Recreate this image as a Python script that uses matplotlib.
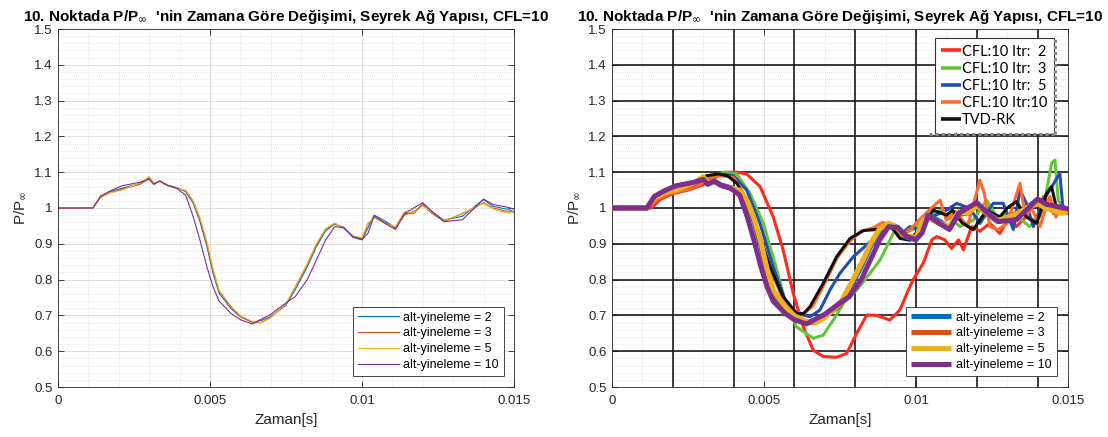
import numpy as np
import matplotlib
matplotlib.use("Agg")
import matplotlib.pyplot as plt
from matplotlib.ticker import MultipleLocator
from matplotlib.lines import Line2D
from matplotlib.font_manager import FontProperties

plt.rcParams['font.family'] = ['Liberation Sans', 'DejaVu Sans']
plt.rcParams['mathtext.fontset'] = 'dejavusans'

# ---------------- data ----------------
TITLE = "10. Noktada P/P$_{\\infty}$  'nin Zamana Göre Değişimi, Seyrek Ağ Yapısı, CFL=10"
XLABEL = "Zaman[s]"
YLABEL = "P/P$_{\\infty}$"
XTICKS = [0, 0.005, 0.01, 0.015]
XTICKLABELS = ["0", "0.005", "0.01", "0.015"]
YTICKS = [0.5, 0.6, 0.7, 0.8, 0.9, 1.0, 1.1, 1.2, 1.3, 1.4, 1.5]
YTICKLABELS = ["0.5", "0.6", "0.7", "0.8", "0.9", "1", "1.1", "1.2", "1.3", "1.4", "1.5"]

# MATLAB series (sub-iterations)
T_ALT = [0, 0.00115, 0.0014, 0.0017, 0.0021, 0.0027, 0.0030, 0.00315, 0.00335, 0.0036,
         0.0039, 0.0042, 0.00445, 0.00467, 0.0049, 0.0051, 0.0053, 0.0057, 0.0060, 0.0064,
         0.0067, 0.0070, 0.0075, 0.0078, 0.0082, 0.0085, 0.0088, 0.0091, 0.0094, 0.0097,
         0.0100, 0.0102, 0.0104, 0.0108, 0.0111, 0.0114, 0.0117, 0.0120, 0.0123, 0.0127,
         0.0133, 0.0137, 0.0140, 0.0143, 0.0148, 0.0150]
ALT2 = [1.0, 1.0, 1.032, 1.045, 1.055, 1.068, 1.083, 1.068, 1.075, 1.064,
        1.057, 1.046, 1.013, 0.962, 0.892, 0.818, 0.762, 0.718, 0.696, 0.681,
        0.686, 0.697, 0.729, 0.771, 0.836, 0.892, 0.936, 0.955, 0.946, 0.918,
        0.911, 0.945, 0.980, 0.962, 0.943, 0.985, 0.984, 1.012, 0.990, 0.966,
        0.977, 1.004, 1.024, 1.005, 0.996, 0.990]
ALT3 = [1.0, 1.0, 1.030, 1.043, 1.052, 1.066, 1.085, 1.067, 1.076, 1.063,
        1.056, 1.048, 1.018, 0.970, 0.900, 0.826, 0.768, 0.722, 0.698, 0.680,
        0.680, 0.695, 0.731, 0.778, 0.842, 0.897, 0.940, 0.957, 0.944, 0.922,
        0.915, 0.955, 0.975, 0.958, 0.945, 0.980, 0.990, 1.008, 0.985, 0.962,
        0.985, 1.000, 1.015, 1.000, 0.990, 0.988]
ALT5 = [1.0, 1.0, 1.028, 1.042, 1.050, 1.070, 1.088, 1.070, 1.074, 1.062,
        1.055, 1.050, 1.020, 0.972, 0.905, 0.830, 0.770, 0.725, 0.699, 0.683,
        0.680, 0.694, 0.733, 0.780, 0.845, 0.900, 0.942, 0.958, 0.942, 0.920,
        0.918, 0.958, 0.972, 0.955, 0.948, 0.990, 0.985, 1.006, 0.988, 0.965,
        0.983, 1.003, 1.012, 0.998, 0.985, 0.990]
ALT10 = [1.0, 1.0, 1.033, 1.047, 1.062, 1.072, 1.080, 1.066, 1.075, 1.063,
         1.055, 1.036, 0.975, 0.910, 0.835, 0.780, 0.740, 0.705, 0.688, 0.676,
         0.690, 0.703, 0.735, 0.752, 0.800, 0.855, 0.910, 0.948, 0.945, 0.920,
         0.912, 0.930, 0.978, 0.955, 0.940, 0.985, 1.000, 1.015, 0.990, 0.962,
         0.967, 1.000, 1.025, 1.010, 1.002, 0.997]
ALT_LABELS = ["alt-yineleme = 2", "alt-yineleme = 3", "alt-yineleme = 5", "alt-yineleme = 10"]
ALT_COLORS = ["#0072BD", "#D95319", "#EDB120", "#7E2F8E"]

# Reference (pasted) series
T_IT2 = [0, 0.0013, 0.0016, 0.002, 0.0025, 0.003, 0.0034, 0.0037, 0.0041, 0.00443,
         0.00487, 0.0053, 0.00563, 0.00596, 0.00629, 0.00662, 0.00695, 0.00739, 0.00772, 0.00805,
         0.00838, 0.00871, 0.00914, 0.00947, 0.00975, 0.0099, 0.01024, 0.01052, 0.01068, 0.01095,
         0.01117, 0.0114, 0.01156, 0.01183, 0.0121, 0.01243, 0.01276, 0.01309, 0.0133, 0.01363,
         0.01397, 0.01419, 0.01452, 0.015]
P_IT2 = [1.0, 1.0, 1.025, 1.04, 1.05, 1.065, 1.085, 1.1, 1.1, 1.095,
         1.06, 0.976, 0.883, 0.762, 0.668, 0.603, 0.585, 0.583, 0.594, 0.65,
         0.701, 0.70, 0.687, 0.715, 0.771, 0.799, 0.846, 0.911, 0.92, 0.911,
         0.887, 0.911, 0.883, 0.948, 0.935, 0.957, 0.929, 0.98, 0.948, 0.976,
         0.962, 1.032, 0.985, 0.985]
T_IT3 = [0, 0.0012, 0.0015, 0.0019, 0.0024, 0.0029, 0.0033, 0.0037, 0.0041, 0.00454,
         0.00498, 0.00542, 0.00575, 0.00607, 0.00662, 0.00695, 0.00728, 0.00761, 0.00805, 0.00849,
         0.00882, 0.00914, 0.00936, 0.0096, 0.0099, 0.01046, 0.0108, 0.01145, 0.01188, 0.01232,
         0.01265, 0.0132, 0.01374, 0.01408, 0.0143, 0.01446, 0.01457, 0.01468, 0.015]
P_IT3 = [1.0, 1.0, 1.03, 1.045, 1.055, 1.07, 1.09, 1.1, 1.095, 1.041,
         0.957, 0.827, 0.724, 0.668, 0.636, 0.645, 0.687, 0.734, 0.771, 0.818,
         0.855, 0.91, 0.948, 0.929, 0.94, 0.976, 0.994, 0.948, 0.966, 1.022,
         0.976, 0.985, 0.948, 0.976, 1.05, 1.125, 1.134, 1.02, 0.99]
T_IT5 = [0, 0.0012, 0.0015, 0.0019, 0.0024, 0.0029, 0.0032, 0.0036, 0.004, 0.00443,
         0.00487, 0.0053, 0.00569, 0.00607, 0.00651, 0.00684, 0.00717, 0.0075, 0.00794, 0.00838,
         0.0087, 0.00914, 0.00947, 0.0098, 0.0101, 0.0104, 0.011, 0.01134, 0.01177, 0.0121,
         0.01254, 0.01287, 0.0132, 0.01342, 0.01363, 0.01386, 0.01419, 0.0144, 0.01473, 0.01484,
         0.015]
P_IT5 = [1.0, 1.0, 1.03, 1.045, 1.055, 1.07, 1.09, 1.095, 1.09, 1.05,
         0.957, 0.836, 0.743, 0.706, 0.696, 0.715, 0.771, 0.818, 0.864, 0.897,
         0.92, 0.948, 0.925, 0.948, 0.94, 0.97, 0.994, 1.013, 0.999, 0.957,
         1.013, 1.013, 0.94, 1.05, 1.013, 0.948, 1.022, 1.05, 1.097, 0.994,
         0.99]
T_IT10 = [0, 0.0012, 0.0015, 0.0019, 0.0024, 0.0029, 0.0032, 0.0036, 0.004, 0.0043,
          0.0048, 0.0052, 0.0056, 0.006, 0.0063, 0.0066, 0.007, 0.0074, 0.0078, 0.0082,
          0.0086, 0.0089, 0.0092, 0.0095, 0.0099, 0.0102, 0.01079, 0.011, 0.0113, 0.0117,
          0.0121, 0.01225, 0.01243, 0.0127, 0.013, 0.01342, 0.0136, 0.0138, 0.01408, 0.0143,
          0.0144, 0.0146, 0.0148, 0.015]
P_IT10 = [1.0, 1.0, 1.025, 1.04, 1.05, 1.065, 1.085, 1.09, 1.085, 1.045,
          0.93, 0.83, 0.75, 0.71, 0.705, 0.725, 0.79, 0.86, 0.905, 0.935,
          0.945, 0.96, 0.95, 0.92, 0.948, 0.975, 1.022, 0.966, 0.99, 0.948,
          1.078, 1.04, 0.948, 0.94, 0.957, 1.069, 0.975, 1.0, 0.948, 1.01,
          1.032, 0.975, 1.0, 0.994]
T_TVD = [0, 0.0012, 0.0014, 0.0018, 0.0022, 0.0026, 0.0031, 0.0035, 0.0038, 0.0041,
         0.0043, 0.00476, 0.0052, 0.00563, 0.00607, 0.0063, 0.00651, 0.00695, 0.00739, 0.00783,
         0.00827, 0.0087, 0.00914, 0.00947, 0.0098, 0.0101, 0.01057, 0.011, 0.0112, 0.0115,
         0.01188, 0.01232, 0.01276, 0.0130, 0.0133, 0.01363, 0.01397, 0.0143, 0.01446, 0.01462,
         0.015]
P_TVD = [1.0, 1.0, 1.03, 1.045, 1.055, 1.065, 1.09, 1.095, 1.09, 1.07,
         1.04, 0.948, 0.836, 0.752, 0.706, 0.705, 0.724, 0.79, 0.864, 0.915,
         0.937, 0.94, 0.954, 0.915, 0.91, 0.94, 0.994, 0.98, 0.994, 0.96,
         0.939, 0.994, 0.975, 1.0, 1.018, 0.975, 0.957, 1.041, 1.06, 1.0,
         0.994]
REF_LABELS = ["CFL:10 Itr:  2", "CFL:10 Itr:  3", "CFL:10 Itr:  5", "CFL:10 Itr:10", "TVD-RK"]
REF_COLORS = ["#FF2A1A", "#62C53C", "#1F4FB5", "#FF6A2E", "#111111"]

# ---------------- figure ----------------
W, H = 1108, 437
fig = plt.figure(figsize=(W / 100, H / 100), dpi=100)
ax1 = fig.add_axes([58 / W, 50 / H, 456 / W, 358 / H])
ax2 = fig.add_axes([612 / W, 50 / H, 456 / W, 358 / H])
AXC = '#262626'


def style(ax):
    ax.set_xlim(0, 0.015)
    ax.set_ylim(0.5, 1.5)
    ax.set_xticks(XTICKS)
    ax.set_xticklabels(XTICKLABELS)
    ax.set_yticks(YTICKS)
    ax.set_yticklabels(YTICKLABELS)
    ax.xaxis.set_minor_locator(MultipleLocator(0.001))
    ax.yaxis.set_minor_locator(MultipleLocator(0.02))
    ax.tick_params(which='major', direction='in', length=4, width=0.6, top=True, right=True,
                   labelsize=9.5, colors=AXC)
    ax.tick_params(axis='x', which='major', pad=6)
    ax.tick_params(axis='y', which='major', pad=4)
    ax.tick_params(which='minor', length=0)
    ax.grid(which='major', color='#dadada', lw=0.6, ls='-')
    ax.grid(which='minor', color='#dddddd', lw=0.6, ls=(0, (1, 1.5)))
    ax.set_axisbelow(True)
    for s in ax.spines.values():
        s.set_color(AXC)
        s.set_linewidth(0.6)
    ax.set_xlabel(XLABEL, fontsize=11, color=AXC, labelpad=4)
    ax.set_ylabel(YLABEL, fontsize=11, color=AXC, labelpad=4)
    ax.set_title(TITLE, fontsize=11, fontweight='bold', pad=6)


style(ax1)
style(ax2)

alt_series = [ALT2, ALT3, ALT5, ALT10]

# Left panel
for p, c, lab in zip(alt_series, ALT_COLORS, ALT_LABELS):
    ax1.plot(T_ALT, p, color=c, lw=0.8, label=lab)
leg1 = ax1.legend(loc='lower right', bbox_to_anchor=(0.978, 0.031), borderaxespad=0,
                  fancybox=False, edgecolor=AXC, framealpha=1, fontsize=9,
                  handlelength=3.3, handletextpad=0.35, labelspacing=0.3, borderpad=0.4)
leg1.get_frame().set_linewidth(0.6)

# Right panel: dark grid from the overlaid reference chart
for v in np.arange(0.002, 0.0141, 0.002):
    ax2.axvline(v, color='#1a1a1a', lw=1.2, zorder=1.2)
for h in np.arange(0.6, 1.41, 0.1):
    ax2.axhline(h, color='#1a1a1a', lw=1.2, zorder=1.2)

ref_t = [T_IT2, T_IT3, T_IT5, T_IT10, T_TVD]
ref_p = [P_IT2, P_IT3, P_IT5, P_IT10, P_TVD]
ref_handles = []
for t, p, c, lab in zip(ref_t, ref_p, REF_COLORS, REF_LABELS):
    ax2.plot(t, p, color=c, lw=2.2, zorder=2, solid_joinstyle='round')
    ref_handles.append(Line2D([], [], color=c, lw=2.6, label=lab, solid_capstyle='butt'))

alt_handles = []
for p, c, lab in zip(alt_series, ALT_COLORS, ALT_LABELS):
    ax2.plot(T_ALT, p, color=c, lw=3.6, zorder=3, solid_joinstyle='round')
    alt_handles.append(Line2D([], [], color=c, lw=3.6, label=lab, solid_capstyle='butt'))

legA = ax2.legend(handles=ref_handles, loc='upper right', bbox_to_anchor=(0.969, 0.975),
                  borderaxespad=0, fancybox=False, edgecolor='#333333', framealpha=1,
                  prop=FontProperties(family='Lato', size=10.5),
                  handlelength=1.35, handletextpad=0.08, labelspacing=0.22, borderpad=0.45)
legA.get_frame().set_linewidth(0.8)
legA.set_zorder(5)
ax2.add_artist(legA)

legB = ax2.legend(handles=alt_handles, loc='lower right', bbox_to_anchor=(0.976, 0.031),
                  borderaxespad=0, fancybox=False, edgecolor=AXC, framealpha=1, fontsize=9,
                  handlelength=3.2, handletextpad=0.45, labelspacing=0.3, borderpad=0.4)
legB.get_frame().set_linewidth(0.6)
legB.set_zorder(5)

# dotted shadow around reference legend
ax2.add_line(Line2D([0.9715, 0.9715], [0.707, 0.975], transform=ax2.transAxes, color='#888888',
                    lw=2.2, ls=(0, (1, 1)), zorder=6, clip_on=False))
ax2.add_line(Line2D([0.695, 0.9715], [0.707, 0.707], transform=ax2.transAxes, color='#888888',
                    lw=2.2, ls=(0, (1, 1)), zorder=6, clip_on=False))

fig.savefig("out.png", dpi=100)
